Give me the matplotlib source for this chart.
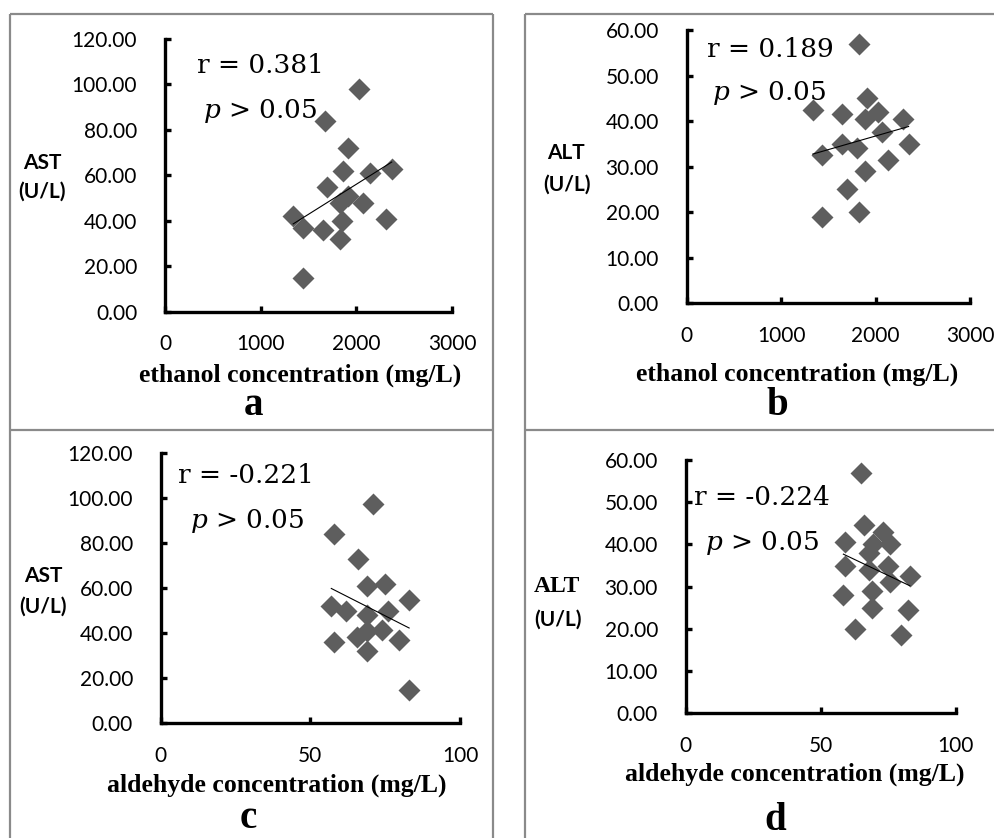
import numpy as np
import matplotlib
matplotlib.use("Agg")
import matplotlib.pyplot as plt
from matplotlib.lines import Line2D

plt.rcParams['mathtext.fontset'] = 'dejavuserif'

# ---------------- data ----------------
# a: ethanol vs AST
eth_a = [2030, 1670, 1910, 1865, 2140, 2370, 1690, 1915, 1830, 2070, 2315, 1340, 1445, 1655, 1845, 1830, 1445]
ast_a = [98, 84, 72, 62, 61, 63, 55, 51, 48, 48, 41, 42, 37, 36, 40, 32, 15]
# b: ethanol vs ALT
eth_b = [1825, 1905, 1335, 1640, 1890, 2030, 2295, 2065, 2350, 1640, 1800, 1430, 2135, 1890, 1695, 1820, 1430]
alt_b = [57, 45, 42.5, 41.5, 40.5, 42, 40.5, 37.5, 35, 35, 34, 32.5, 31.5, 29, 25, 20, 19]
# c: aldehyde vs AST
ald_c = [71, 58, 66, 69, 75, 83, 57, 62, 69, 76, 65.5, 69, 74, 58, 79.5, 69, 83]
ast_c = [97.5, 84, 73, 61, 62, 55, 52, 50, 48, 50, 38.5, 41, 41.5, 36, 37, 32, 15]
# d: aldehyde vs ALT
ald_d = [65, 66, 73, 59, 69.5, 75.7, 68, 59, 75, 68, 83, 75.7, 58.4, 69, 69, 82.5, 62.7, 79.6]
alt_d = [57, 44.5, 43, 40.6, 40, 40, 38, 35, 35, 34, 32.5, 31, 28, 29, 25, 24.5, 20, 18.5]

r_texts = ["r = 0.381", "r = 0.189", "r = -0.221", "r = -0.224"]
p_text = r"$\mathit{p}$ > 0.05"
x_labels = ["ethanol concentration (mg/L)", "ethanol concentration (mg/L)",
            "aldehyde concentration (mg/L)", "aldehyde concentration (mg/L)"]
y_names = ["AST", "ALT", "AST", "ALT"]
y_unit = "(U/L)"
letters = ["a", "b", "c", "d"]
x_ticks_eth = [0, 1000, 2000, 3000]
x_ticks_ald = [0, 50, 100]
y_ticks_ast = [0, 20, 40, 60, 80, 100, 120]
y_ticks_alt = [0, 10, 20, 30, 40, 50, 60]

W, H = 995, 838
fig = plt.figure(figsize=(W / 100, H / 100), dpi=100)
fig.patch.set_facecolor('white')


def fx(x):
    return x / W


def fy(y):
    return 1 - y / H


def add_axes(x0, x1, ytop, ybot):
    return fig.add_axes([fx(x0), fy(ybot), fx(x1) - fx(x0), (ybot - ytop) / H])


# frames (grey panel borders)
fc = '#8a8a8a'
flw = 1.6
for seg in [((10, 10), (14, 845)), ((10, 493), (14, 14)), ((493, 493), (14, 845)),
            ((10, 493), (430, 430)),
            ((525, 525), (14, 845)), ((525, 1000), (14, 14)), ((525, 1000), (430, 430))]:
    (xa, xb), (ya, yb) = seg
    fig.add_artist(Line2D([fx(xa), fx(xb)], [fy(ya), fy(yb)], color=fc, lw=flw,
                          transform=fig.transFigure, solid_capstyle='butt'))

panels = [
    dict(x=eth_a, y=ast_a, box=(165, 452, 39, 312), xt=x_ticks_eth, yt=y_ticks_ast),
    dict(x=eth_b, y=alt_b, box=(686.7, 970, 30, 303.3), xt=x_ticks_eth, yt=y_ticks_alt),
    dict(x=ald_c, y=ast_c, box=(160.7, 460, 453.3, 723.3), xt=x_ticks_ald, yt=y_ticks_ast),
    dict(x=ald_d, y=alt_d, box=(685.7, 955.7, 460, 713.3), xt=x_ticks_ald, yt=y_ticks_alt),
]

sans = 'Lato'
serif_lbl = 'Liberation Serif'

for i, p in enumerate(panels):
    ax = add_axes(*p['box'])
    ax.set_facecolor('none')
    xs = np.array(p['x'], float)
    ys = np.array(p['y'], float)
    ax.plot(xs, ys, linestyle='none', marker='D', ms=11, color='#5e5e5e', mec='none', zorder=3)
    k, b = np.polyfit(xs, ys, 1)
    xx = np.array([xs.min(), xs.max()])
    ax.plot(xx, k * xx + b, color='black', lw=0.8, zorder=4)
    ax.set_xlim(p['xt'][0], p['xt'][-1])
    ax.set_ylim(p['yt'][0], p['yt'][-1])
    ax.set_xticks(p['xt'])
    ax.set_yticks(p['yt'])
    ax.set_xticklabels([str(v) for v in p['xt']], fontfamily=sans, fontsize=15)
    ax.set_yticklabels([f"{v:.2f}" for v in p['yt']], fontfamily=sans, fontsize=15)
    for s in ['top', 'right']:
        ax.spines[s].set_visible(False)
    for s in ['left', 'bottom']:
        ax.spines[s].set_linewidth(2.4)
        ax.spines[s].set_color('black')
    ax.tick_params(axis='both', direction='in', length=4, width=2.4, color='black')
    ax.tick_params(axis='y', pad=20)
    ax.tick_params(axis='x', pad=16)
    for lab in ax.get_xticklabels() + ax.get_yticklabels():
        lab.set_clip_on(False)

# annotation texts
r_pos = [(260, 73), (770, 57), (246, 483), (762, 505)]
p_pos = [(260, 118), (769, 100), (247, 528), (762, 550)]
for (x, y), t in zip(r_pos, r_texts):
    fig.text(fx(x), fy(y), t, ha='center', va='baseline', fontfamily='DejaVu Serif', fontsize=19)
for (x, y) in p_pos:
    fig.text(fx(x), fy(y), p_text, ha='center', va='baseline', fontfamily='DejaVu Serif', fontsize=19)

# y labels
yname_pos = [(42, 163), (566, 153), (43, 576), (557, 586)]
yunit_pos = [(42, 192), (567, 185), (43, 607), (558, 620)]
for i, ((x, y), t) in enumerate(zip(yname_pos, y_names)):
    fam = serif_lbl if i == 3 else sans
    fs = 17 if i == 3 else 15
    fig.text(fx(x), fy(y), t, ha='center', va='center', fontfamily=fam, fontweight='bold', fontsize=fs)
for (x, y) in yunit_pos:
    fig.text(fx(x), fy(y), y_unit, ha='center', va='center', fontfamily=sans, fontweight='bold', fontsize=15)

# x labels
xl_pos = [(300, 375), (797, 374), (277, 785), (795, 774)]
for (x, y), t in zip(xl_pos, x_labels):
    fig.text(fx(x), fy(y), t, ha='center', va='center', fontfamily=serif_lbl, fontweight='bold', fontsize=18.5)

# panel letters
let_pos = [(254, 415), (777, 415), (248, 828), (775, 830)]
for (x, y), t in zip(let_pos, letters):
    fig.text(fx(x), fy(y), t, ha='center', va='baseline', fontfamily=serif_lbl, fontweight='bold', fontsize=28)

fig.savefig('out.png', dpi=100, facecolor='white')
